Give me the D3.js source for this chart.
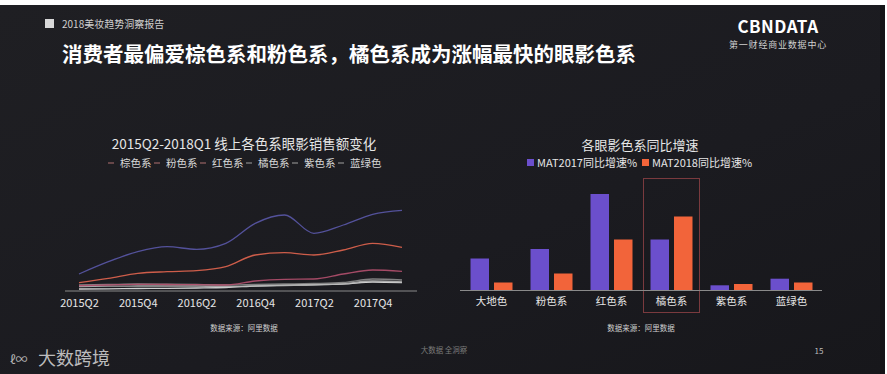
<!DOCTYPE html>
<html><head><meta charset="utf-8">
<script src="https://cdn.jsdelivr.net/npm/d3@7"></script>
<style>
html,body{margin:0;padding:0;background:#fff;}
svg{display:block;}
text{font-family:"Noto Sans CJK SC","Noto Sans",sans-serif;}
</style></head>
<body>
<svg id="c" width="887" height="374"></svg>
<script>
// ---- line chart data ----
const quarters = ["2015Q2","2015Q3","2015Q4","2016Q1","2016Q2","2016Q3","2016Q4","2017Q1","2017Q2","2017Q3","2017Q4","2018Q1"];
const quarterTicks = ["2015Q2","2015Q4","2016Q2","2016Q4","2017Q2","2017Q4"];
const lineSeriesNames = ["棕色系","粉色系","红色系","橘色系","紫色系","蓝绿色"];
const lineColors = ["#5a58a8","#e2654f","#b4506e","#8c8c8c","#b4b4b4","#e4e4e4"];
const brownValues  = [17, 29.3, 39.3, 44.3, 41.7, 47.7, 67.7, 76, 57.7, 66, 76.7, 80.7];
const pinkValues   = [8.3, 12.7, 17.7, 19.3, 20.3, 24.3, 36, 38.3, 36, 41, 47.7, 43.7];
const redValues    = [5.3, 6, 6.7, 6.5, 6.3, 6, 10, 11.7, 12, 17, 21, 19.7];
const orangeValues = [6, 6.5, 7, 6.8, 6.5, 6, 6.5, 7, 7.5, 8.5, 12, 11];
const purpleValues = [4.5, 4.8, 5, 5, 5, 4.5, 5, 5.5, 6, 7.5, 10, 9];
const tealValues   = [2, 2.2, 2.5, 2.7, 3, 3.5, 5, 6, 6.5, 7, 9, 8.5];
const lineValues = [brownValues, pinkValues, redValues, orangeValues, purpleValues, tealValues];

// ---- bar chart data ----
const barCategories = ["大地色","粉色系","红色系","橘色系","紫色系","蓝绿色"];
const barSeriesNames = ["MAT2017同比增速%","MAT2018同比增速%"];
const barColors = ["#6b4fcc","#f2643a"];
const mat2017 = [32, 41.5, 96.5, 51, 5.2, 11.8];
const mat2018 = [8, 17, 51, 74, 6.5, 8];

const svg = d3.select("#c");
// background
svg.append("rect").attr("width",887).attr("height",374).attr("fill","#ffffff");
const bg = svg.append("defs").append("linearGradient").attr("id","bg").attr("x1","0").attr("x2","1").attr("y1","0").attr("y2","1");
bg.append("stop").attr("offset","0").attr("stop-color","#1f1f23");
bg.append("stop").attr("offset","0.6").attr("stop-color","#1b1b20");
bg.append("stop").attr("offset","1").attr("stop-color","#17171b");
svg.append("rect").attr("x",0).attr("y",5).attr("width",885).attr("height",369).attr("fill","url(#bg)");
svg.append("rect").attr("x",880).attr("y",5).attr("width",5).attr("height",369).attr("fill","#141417");

// header
svg.append("rect").attr("x",45).attr("y",19).attr("width",9).attr("height",9).attr("fill","#d8d8d8");
svg.append("text").attr("x",62).attr("y",28).attr("fill","#cfcfcf").attr("font-size",10).text("2018美妆趋势洞察报告");
svg.append("text").attr("x",62).attr("y",62).attr("fill","#ffffff").attr("font-size",20.5).attr("font-weight","bold")
  .text("消费者最偏爱棕色系和粉色系，橘色系成为涨幅最快的眼影色系");
svg.append("text").attr("x",778).attr("y",33).attr("text-anchor","middle").attr("fill","#ffffff").attr("font-size",17)
  .attr("font-weight","bold").attr("font-family","Liberation Sans, sans-serif").attr("letter-spacing",0.5).text("CBNDATA");
svg.append("text").attr("x",778).attr("y",48).attr("text-anchor","middle").attr("fill","#cfcfcf").attr("font-size",9)
  .attr("letter-spacing",0.8).text("第一财经商业数据中心");

// ---- line chart ----
const lx = d3.scalePoint().domain(quarters).range([79, 402]);
const ly = d3.scaleLinear().domain([0,100]).range([291,191]);
svg.append("text").attr("x",244).attr("y",149).attr("text-anchor","middle").attr("fill","#e6e6e6").attr("font-size",13.5)
  .text("2015Q2-2018Q1 线上各色系眼影销售额变化");
// legend
const lg = svg.append("g").attr("transform","translate(108,163)");
let lxpos = 0;
lineSeriesNames.forEach((n,i)=>{
  const g = lg.append("g").attr("transform",`translate(${lxpos},0)`);
  g.append("line").attr("x1",0).attr("x2",6).attr("y1",0).attr("y2",0).attr("stroke",i<3? "#b07070":"#a0a0a0").attr("stroke-width",1);
  g.append("text").attr("x",12).attr("y",4).attr("fill","#d8d8d8").attr("font-size",10.5).text(n);
  lxpos += 46;
});
// axis
const lAxis = d3.axisBottom(lx).tickValues(quarterTicks).tickSize(0).tickPadding(8);
const lag = svg.append("g").attr("transform","translate(0,291)").call(lAxis);
lag.select(".domain").remove();
lag.selectAll("text").attr("fill","#e6e6e6").attr("font-size",11).attr("font-family","Liberation Sans, Arial, sans-serif");
svg.append("line").attr("x1",65).attr("x2",417).attr("y1",291).attr("y2",291).attr("stroke","#8a8a8a").attr("stroke-width",1);
const lineGen = d3.line().x((d,i)=>lx(quarters[i])).y(d=>ly(d)).curve(d3.curveMonotoneX);
lineValues.slice().reverse().forEach((vals,ri)=>{
  const i = lineValues.length-1-ri;
  svg.append("path").attr("d",lineGen(vals)).attr("fill","none").attr("stroke",lineColors[i]).attr("stroke-width",1.3).attr("opacity",0.9);
});
svg.append("text").attr("x",244).attr("y",331).attr("text-anchor","middle").attr("fill","#cfcfcf").attr("font-size",7.5).text("数据来源：阿里数据");

// ---- bar chart ----
const bx0 = d3.scaleBand().domain(barCategories).range([461.5,821.5]).paddingInner(0.3).paddingOuter(0.15);
const bx1 = d3.scaleBand().domain(barSeriesNames).range([0,bx0.bandwidth()]).paddingInner(0.213);
const by = d3.scaleLinear().domain([0,100]).range([290.5,190.5]);
svg.append("text").attr("x",640).attr("y",150).attr("text-anchor","middle").attr("fill","#e6e6e6").attr("font-size",13).text("各眼影色系同比增速");
const blg = svg.append("g");
barSeriesNames.forEach((n,i)=>{
  const x0 = i===0 ? 527 : 642;
  blg.append("rect").attr("x",x0).attr("y",159).attr("width",7).attr("height",7).attr("fill",barColors[i]);
  blg.append("text").attr("x",x0+10).attr("y",167).attr("fill","#e6e6e6").attr("font-size",11).text(n);
});
// highlight box
const hx = bx0("橘色系");
svg.append("rect").attr("x",hx-28+bx0.bandwidth()/2).attr("y",178.5).attr("width",56).attr("height",134)
  .attr("fill","none").attr("stroke","#7a3a3e").attr("stroke-width",1);
const barData = [mat2017, mat2018];
barCategories.forEach((c,ci)=>{
  barSeriesNames.forEach((s,si)=>{
    const v = barData[si][ci];
    svg.append("rect").attr("x",bx0(c)+bx1(s)).attr("y",by(v)).attr("width",bx1.bandwidth()).attr("height",by(0)-by(v)).attr("fill",barColors[si]);
  });
});
svg.append("line").attr("x1",460).attr("x2",822).attr("y1",290.5).attr("y2",290.5).attr("stroke","#8a8a8a").attr("stroke-width",1);
const bAxis = d3.axisBottom(bx0).tickSize(0).tickPadding(7);
const bag = svg.append("g").attr("transform","translate(0,290.5)").call(bAxis);
bag.select(".domain").remove();
bag.selectAll("text").attr("fill","#e6e6e6").attr("font-size",10.5).attr("font-family","Noto Sans CJK SC, sans-serif");
svg.append("text").attr("x",641).attr("y",331).attr("text-anchor","middle").attr("fill","#cfcfcf").attr("font-size",7.5).text("数据来源：阿里数据");

// footer
svg.append("text").attr("x",444).attr("y",353).attr("text-anchor","middle").attr("fill","#7a7a7a").attr("font-size",7.5).text("大数据 全洞察");
svg.append("text").attr("x",819).attr("y",354).attr("text-anchor","middle").attr("fill","#bdbdbd").attr("font-size",8).text("15");
svg.append("text").attr("x",10).attr("y",364).attr("fill","#cfcfcf").attr("opacity",0.85).attr("font-size",12).attr("font-family","Liberation Sans, sans-serif").text("ℓ∞");
svg.append("text").attr("x",38).attr("y",365).attr("fill","#d8d8d8").attr("opacity",0.85).attr("font-size",18).text("大数跨境");
</script>
</body></html>
